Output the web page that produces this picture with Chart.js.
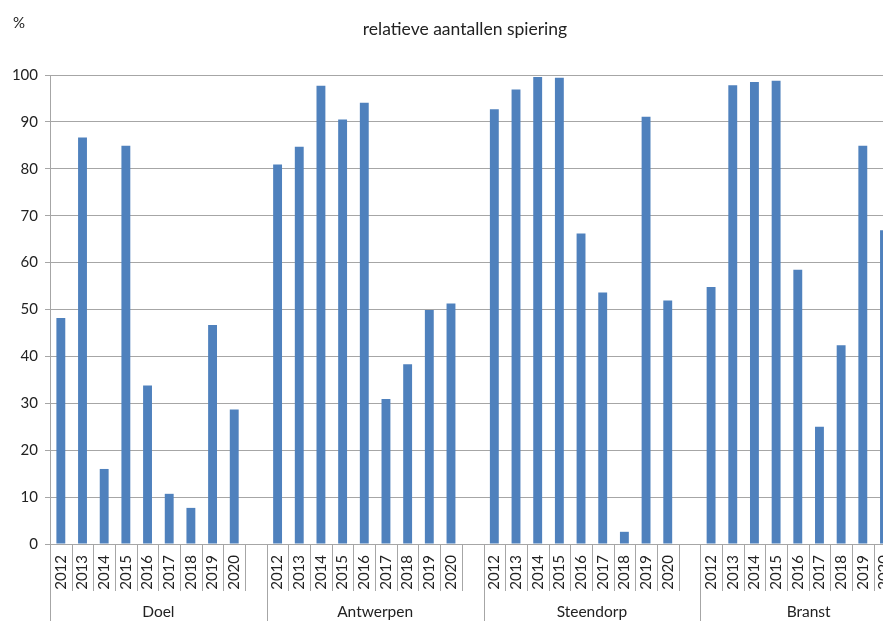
<!DOCTYPE html>
<html>
<head>
<meta charset="utf-8">
<script src="https://cdn.jsdelivr.net/npm/chart.js@4.4.1/dist/chart.umd.min.js"></script>
<style>
  html, body { margin: 0; padding: 0; background: #fff; overflow: hidden; }
  #wrap { width: 917px; height: 621px; }
</style>
</head>
<body>
<div id="wrap"><canvas id="chart" width="917" height="621"></canvas></div>
<script>
// Data
const sites = ['Doel', 'Antwerpen', 'Steendorp', 'Branst'];
const years = ['2012', '2013', '2014', '2015', '2016', '2017', '2018', '2019', '2020'];
const doel = [48.2, 86.7, 16.0, 84.9, 33.8, 10.7, 7.7, 46.7, 28.7];
const antwerpen = [80.9, 84.7, 97.7, 90.5, 94.1, 30.9, 38.3, 49.9, 51.3];
const steendorp = [92.7, 96.9, 99.6, 99.4, 66.2, 53.6, 2.6, 91.1, 51.9];
const branst = [54.8, 97.8, 98.5, 98.8, 58.5, 25.0, 42.4, 84.9, 66.9];
const yTicks = [0, 10, 20, 30, 40, 50, 60, 70, 80, 90, 100];

// each site gets its years plus one empty slot
const labels = [];
const values = [];
[doel, antwerpen, steendorp, branst].forEach(function(series) {
    years.forEach(function(y, i) {
        labels.push(y);
        values.push(series[i]);
    });
    labels.push('');
    values.push(null);
});

const FONT = 'Lato, "Open Sans", sans-serif';
const GRID = '#a6a6a6';

// title, % sign, multi-level axis separators and site names
const extras = {
    id: 'extras',
    afterDraw(chart) {
        const ctx = chart.ctx;
        const x = chart.scales.x;
        const area = chart.chartArea;
        const half = (x.getPixelForValue(1) - x.getPixelForValue(0)) / 2;
        ctx.save();
        ctx.strokeStyle = GRID;
        ctx.lineWidth = 1;
        for (let i = 0; i <= labels.length; i++) {
            const px = Math.round(x.getPixelForValue(i) - half) + 0.5;
            ctx.beginPath();
            ctx.moveTo(px, area.bottom);
            ctx.lineTo(px, i % 10 === 0 ? chart.height : area.bottom + 47);
            ctx.stroke();
        }
        ctx.fillStyle = '#222';
        ctx.textAlign = 'center';
        ctx.textBaseline = 'middle';
        ctx.font = '15.5px ' + FONT;
        sites.forEach(function(s, g) {
            ctx.fillText(s, x.getPixelForValue(g * 10 + 4.5), 612);
        });
        ctx.font = '17.5px ' + FONT;
        ctx.fillText('relatieve aantallen spiering', 465, 29);
        ctx.font = '15px ' + FONT;
        ctx.textAlign = 'left';
        ctx.fillText('%', 13, 23);
        ctx.restore();
    }
};

document.addEventListener('DOMContentLoaded', function() {
    const ctx = document.getElementById('chart').getContext('2d');
    new Chart(ctx, {
        type: 'bar',
        data: {
            labels: labels,
            datasets: [{
                data: values,
                backgroundColor: '#4f81bd',
                borderWidth: 0,
                categoryPercentage: 1,
                barPercentage: 0.41
            }]
        },
        options: {
            responsive: false,
            animation: false,
            layout: { padding: { top: 75, right: 0, left: 0, bottom: 0 } },
            plugins: {
                legend: { display: false },
                tooltip: { enabled: false }
            },
            scales: {
                y: {
                    min: 0,
                    max: 100,
                    afterFit: function(s) { s.width = 50; s.paddingTop = 0; s.paddingBottom = 0; },
                    afterBuildTicks: function(s) { s.ticks = yTicks.map(v => ({ value: v })); },
                    border: { color: GRID },
                    grid: { color: GRID, tickLength: 5 },
                    ticks: {
                        padding: 7,
                        color: '#222',
                        font: { family: FONT, size: 15 }
                    }
                },
                x: {
                    afterFit: function(s) { s.height = 77; s.paddingLeft = 0; s.paddingRight = 0; },
                    border: { color: GRID },
                    grid: { display: false, drawTicks: false },
                    ticks: {
                        autoSkip: false,
                        minRotation: 90,
                        maxRotation: 90,
                        padding: 11,
                        color: '#222',
                        font: { family: FONT, size: 15 }
                    }
                }
            }
        },
        plugins: [extras]
    });
});
</script>
</body>
</html>
